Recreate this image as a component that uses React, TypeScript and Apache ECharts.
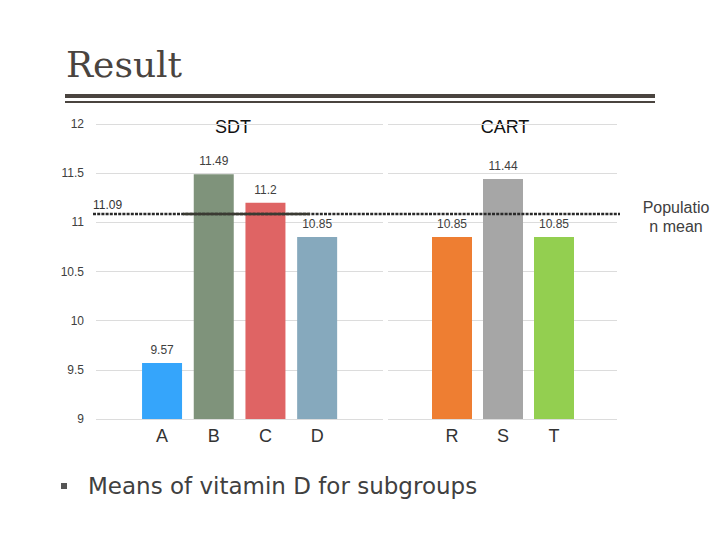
import React, { useEffect, useRef } from "react";
import * as echarts from "echarts";

const sdtCategories = ["A", "B", "C", "D"];
const sdtValues = [9.57, 11.49, 11.2, 10.85];
const sdtColors = ["#35a5fb", "#7f937b", "#df6464", "#86a9bd"];

const cartCategories = ["R", "S", "T"];
const cartValues = [10.85, 11.44, 10.85];
const cartColors = ["#ee7e32", "#a6a6a6", "#93cf50"];

const populationMean = 11.09;
const yMin = 9;
const yMax = 12;
const yStep = 0.5;

const SANS = "Liberation Sans, Arial, sans-serif";

export default function App() {
  const ref = useRef<HTMLDivElement>(null);

  useEffect(() => {
    if (!ref.current) return;
    const chart = echarts.init(ref.current, null, { renderer: "svg" });

    const top = 124;
    const height = 295;
    const gridCommon = { top, height, containLabel: false };

    const hiddenY = (gridIndex: number) => ({
      type: "value",
      gridIndex,
      min: yMin,
      max: yMax,
      interval: yStep,
      show: false,
    });

    const catX = (gridIndex: number, data: string[]) => ({
      type: "category",
      gridIndex,
      data,
      axisLine: { show: false },
      axisTick: { show: false },
      axisLabel: { color: "#333", fontSize: 18, fontFamily: SANS, margin: 8 },
      splitLine: { show: false },
    });

    const barLabel = {
      show: true,
      position: "top",
      distance: 7,
      color: "#404040",
      fontSize: 12,
      fontFamily: SANS,
    };

    const option: any = {
      animation: false,
      backgroundColor: "#fff",
      grid: [
        { ...gridCommon, left: 96, width: 287 },
        { ...gridCommon, left: 136.2, width: 206.8 },
        { ...gridCommon, left: 388, width: 229 },
        { ...gridCommon, left: 426.5, width: 153 },
        { ...gridCommon, left: 93, width: 527 },
      ],
      xAxis: [
        { type: "category", gridIndex: 0, data: [""], show: false },
        catX(1, sdtCategories),
        { type: "category", gridIndex: 2, data: [""], show: false },
        catX(3, cartCategories),
        { type: "category", gridIndex: 4, data: [""], show: false },
      ],
      yAxis: [
        {
          type: "value",
          gridIndex: 0,
          min: yMin,
          max: yMax,
          interval: yStep,
          axisLine: { show: false },
          axisTick: { show: false },
          axisLabel: { color: "#404040", fontSize: 12, fontFamily: SANS, margin: 12 },
          splitLine: { show: true, lineStyle: { color: "#dcdcdc", width: 1 } },
        },
        hiddenY(1),
        {
          type: "value",
          gridIndex: 2,
          min: yMin,
          max: yMax,
          interval: yStep,
          axisLine: { show: false },
          axisTick: { show: false },
          axisLabel: { show: false },
          splitLine: { show: true, lineStyle: { color: "#dcdcdc", width: 1 } },
        },
        hiddenY(3),
        hiddenY(4),
      ],
      series: [
        {
          type: "bar",
          xAxisIndex: 1,
          yAxisIndex: 1,
          barWidth: 40,
          data: sdtValues.map((v, i) => ({ value: v, itemStyle: { color: sdtColors[i] } })),
          label: barLabel,
          z: 2,
        },
        {
          type: "bar",
          xAxisIndex: 3,
          yAxisIndex: 3,
          barWidth: 40,
          data: cartValues.map((v, i) => ({ value: v, itemStyle: { color: cartColors[i] } })),
          label: barLabel,
          z: 2,
        },
        {
          type: "line",
          xAxisIndex: 4,
          yAxisIndex: 4,
          data: [],
          z: 5,
          markLine: {
            silent: true,
            symbol: ["none", "none"],
            animation: false,
            data: [
              {
                yAxis: populationMean,
                lineStyle: { color: "#2a2a2a", width: 2.4, type: [3, 1.2] },
                label: {
                  show: true,
                  position: "insideStartTop",
                  formatter: String(populationMean),
                  color: "#333",
                  fontSize: 12,
                  fontFamily: SANS,
                  distance: [0, 2],
                },
              },
              [
                {
                  x: 183,
                  yAxis: populationMean,
                  lineStyle: { color: "#3a3a32", width: 2.4, type: "solid" },
                  label: { show: false },
                },
                { x: 310, yAxis: populationMean },
              ],
            ],
          },
        },
      ],
      graphic: [
        {
          type: "text",
          x: 66,
          y: 64.5,
          style: {
            text: "Result",
            fill: "#4a443f",
            font: "36px 'DejaVu Serif', serif",
            align: "left",
            verticalAlign: "middle",
          },
        },
        {
          type: "rect",
          shape: { x: 65, y: 94, width: 590, height: 4 },
          style: { fill: "#4a443f" },
        },
        {
          type: "rect",
          shape: { x: 65, y: 101, width: 590, height: 2 },
          style: { fill: "#4a443f" },
        },
        {
          type: "text",
          x: 233,
          y: 127,
          style: {
            text: "SDT",
            fill: "#111",
            font: "18px 'Liberation Sans', sans-serif",
            align: "center",
            verticalAlign: "middle",
          },
        },
        {
          type: "text",
          x: 505,
          y: 127,
          style: {
            text: "CART",
            fill: "#111",
            font: "18px 'Liberation Sans', sans-serif",
            align: "center",
            verticalAlign: "middle",
          },
        },
        {
          type: "text",
          x: 676,
          y: 216.5,
          style: {
            text: "Populatio\nn mean",
            fill: "#404040",
            font: "16px 'Liberation Sans', sans-serif",
            lineHeight: 19,
            align: "center",
            verticalAlign: "middle",
          },
        },
        {
          type: "rect",
          shape: { x: 61, y: 483, width: 6, height: 6 },
          style: { fill: "#555" },
        },
        {
          type: "text",
          x: 88,
          y: 486,
          style: {
            text: "Means of vitamin D for subgroups",
            fill: "#404040",
            font: "23px 'DejaVu Sans', sans-serif",
            align: "left",
            verticalAlign: "middle",
          },
        },
      ],
    };

    chart.setOption(option);
    return () => chart.dispose();
  }, []);

  return (
    <div
      ref={ref}
      style={{ position: "fixed", left: 0, top: 0, width: 720, height: 540, background: "#fff" }}
    />
  );
}
